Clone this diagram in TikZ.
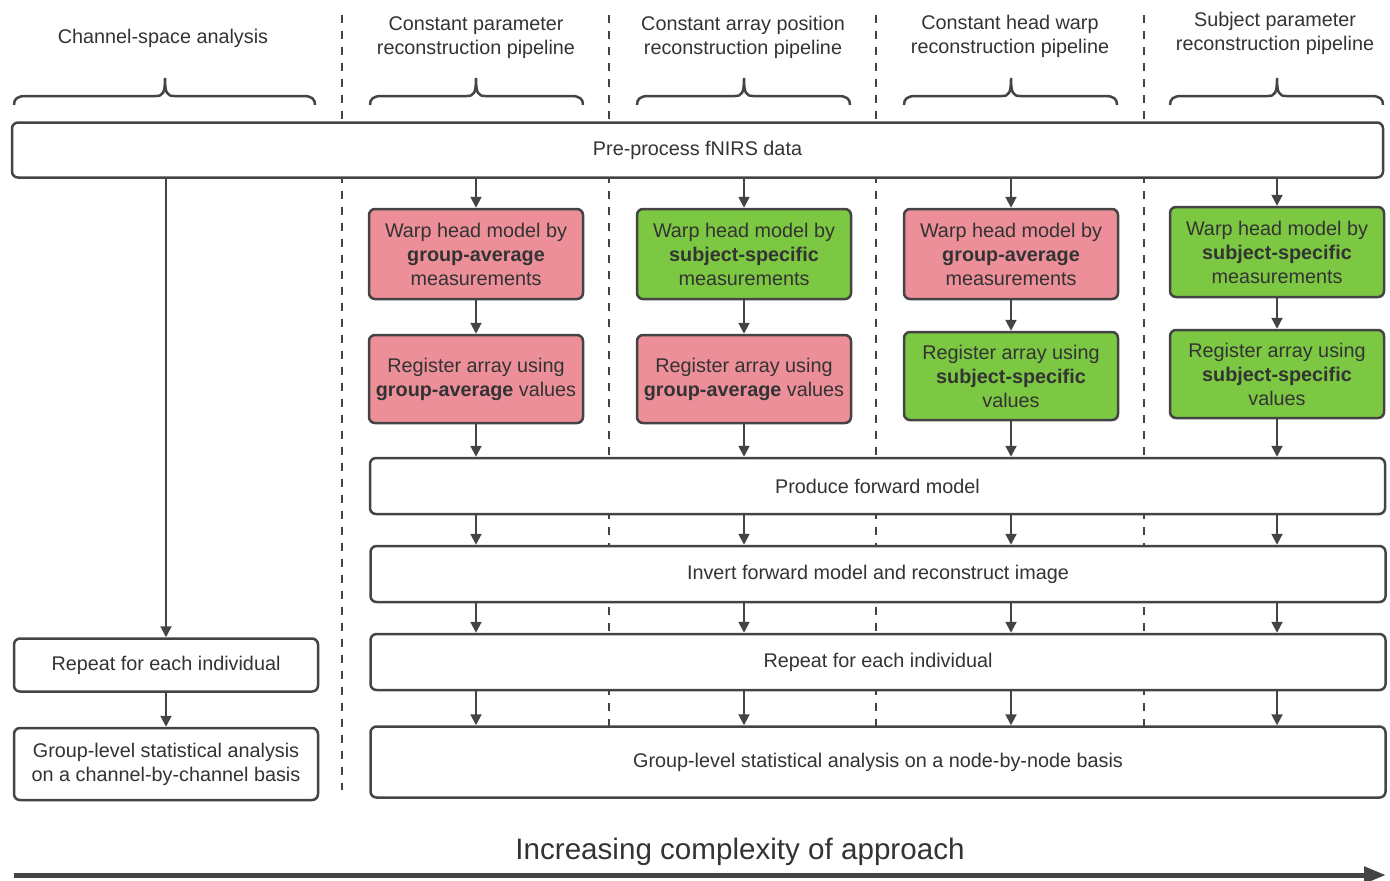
\documentclass[tikz,border=0pt]{standalone}
\usepackage{fontspec}
\setmainfont{Liberation Sans}
\usepackage{tikz}
\usetikzlibrary{
  arrows.meta,%
  positioning,%
  calc
}
\definecolor{boxline}{HTML}{444444}
\definecolor{txtgray}{HTML}{333333}
\definecolor{grpavg}{HTML}{EC8F99}
\definecolor{subjspec}{HTML}{7CC842}
\tikzset{>={Triangle[length=5.5pt,width=5.5pt]}}
\tikzset{font=\fontsize{9.9}{12}\selectfont}
\tikzset{stagebox/.style={draw=boxline, line width=1.25pt, rounded corners=3pt,
    fill=white, align=center, text=txtgray, inner sep=2pt}}
\tikzset{warpbox/.style={stagebox, minimum width=107pt, minimum height=45pt}}
\tikzset{widebox/.style={stagebox, minimum width=507.5pt, minimum height=28pt}}
\tikzset{flow/.style={->, draw=boxline, line width=1pt}}
\tikzset{divider/.style={draw=boxline, line width=0.75pt, dash pattern=on 4pt off 4pt}}
\tikzset{colbrace/.style={draw=boxline, line width=1.25pt}}

\begin{document}
\begin{tikzpicture}[x=0.5pt,y=-0.5pt]
  \useasboundingbox (0,0) rectangle (1390,880);
  % column separators
  \foreach \x in {342,609,876,1144}
    \draw[divider] (\x,15) -- (\x,790);
  % column headings
  \node[text=txtgray] (hdr0) at (163,38) {Channel-space analysis};
  \node[text=txtgray, align=center] (hdr1) at (476,38) {Constant parameter\\reconstruction pipeline};
  \node[text=txtgray, align=center] (hdr2) at (743,37) {Constant array position\\reconstruction pipeline};
  \node[text=txtgray, align=center] (hdr3) at (1010,36) {Constant head warp\\reconstruction pipeline};
  \node[text=txtgray, align=center] (hdr4) at (1275,33) {Subject parameter\\reconstruction pipeline};
  % braces under the headings
  \foreach \l/\m/\r in {14/165/315, 370/476/583, 637/744/850, 904/1011/1117, 1170/1277/1383}
    \draw[colbrace] (\l,105) .. controls (\l,99) and (\l+3,96) .. (\l+12,96)
      -- (\m-9,96) .. controls (\m-2,96) and (\m,93) .. (\m,78)
      .. controls (\m,93) and (\m+2,96) .. (\m+9,96)
      -- (\r-12,96) .. controls (\r-3,96) and (\r,99) .. (\r,105);
  % shared first step
  \node[stagebox, minimum width=685.5pt, minimum height=27.5pt] (pre) at (697.5,150) {Pre-process fNIRS data};
  % channel-space branch
  \node[stagebox, minimum width=152pt, minimum height=26.5pt] (chrep) at (166,665) {Repeat for each individual};
  \node[stagebox, minimum width=152pt, minimum height=36pt] (chgrp) at (166,764) {Group-level statistical analysis\\on a channel-by-channel basis};
  % head warp step
  \node[warpbox, fill=grpavg] (warp1) at (476,254) {Warp head model by\\\textbf{group-average}\\measurements};
  \node[warpbox, fill=subjspec] (warp2) at (744,254) {Warp head model by\\\textbf{subject-specific}\\measurements};
  \node[warpbox, fill=grpavg] (warp3) at (1011,254) {Warp head model by\\\textbf{group-average}\\measurements};
  \node[warpbox, fill=subjspec] (warp4) at (1277,252) {Warp head model by\\\textbf{subject-specific}\\measurements};
  % registration step
  \node[warpbox, minimum height=44pt, fill=grpavg] (reg1) at (476,379) {Register array using\\\textbf{group-average} values};
  \node[warpbox, minimum height=44pt, fill=grpavg] (reg2) at (744,379) {Register array using\\\textbf{group-average} values};
  \node[warpbox, minimum height=44pt, fill=subjspec] (reg3) at (1011,376) {Register array using\\\textbf{subject-specific}\\values};
  \node[warpbox, minimum height=44pt, fill=subjspec] (reg4) at (1277,374) {Register array using\\\textbf{subject-specific}\\values};
  % shared later steps
  \node[widebox] (fwd) at (877.5,486) {Produce forward model};
  \node[widebox] (inv) at (878,574) {Invert forward model and reconstruct image};
  \node[widebox] (rep) at (878,662) {Repeat for each individual};
  \node[widebox, minimum height=35.5pt] (grp) at (878,762) {Group-level statistical analysis on a node-by-node basis};
  % connectors
  \draw[flow] (pre.south -| chrep.north) -- (chrep.north);
  \draw[flow] (chrep) -- (chgrp);
  \foreach \i in {1,...,4} {
    \draw[flow] (pre.south -| warp\i.north) -- (warp\i.north);
    \draw[flow] (warp\i) -- (reg\i);
    \draw[flow] (reg\i.south) -- (reg\i.south |- fwd.north);
    \draw[flow] (fwd.south -| reg\i.south) -- (inv.north -| reg\i.south);
    \draw[flow] (inv.south -| reg\i.south) -- (rep.north -| reg\i.south);
    \draw[flow] (rep.south -| reg\i.south) -- (grp.north -| reg\i.south);
  }
  % complexity axis
  \coordinate (axstart) at (14,875);
  \coordinate (axend) at (1386,875);
  \draw[draw=boxline, line width=2.5pt, -{Triangle[length=11pt,width=8pt]}] (axstart) -- (axend);
  \node[text=txtgray, font=\fontsize{14.8}{18}\selectfont] (axlabel) at (740,852) {Increasing complexity of approach};
\end{tikzpicture}
\end{document}
